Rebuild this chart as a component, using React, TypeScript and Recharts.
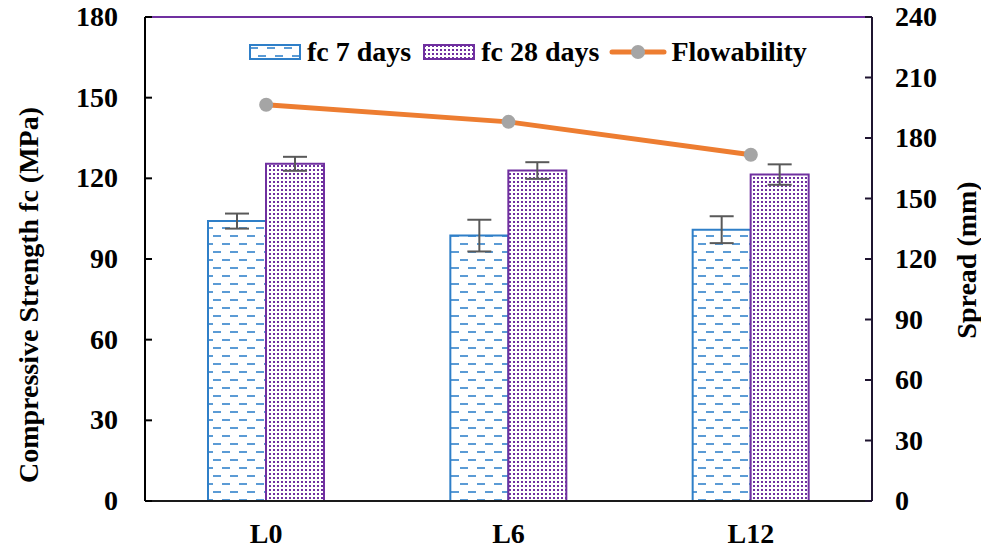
import React from 'react';
import { ComposedChart, Bar, Line, XAxis, YAxis, ErrorBar, Legend, ReferenceLine, Label } from 'recharts';

const categories = ['L0', 'L6', 'L12'];
const fc7 = [104.1, 98.7, 100.9];
const fc7Err = [2.8, 5.9, 5.0];
const fc28 = [125.4, 122.9, 121.4];
const fc28Err = [2.6, 3.1, 3.8];
const flowability = [196.5, 188.0, 171.7];
const leftTicks = [0, 30, 60, 90, 120, 150, 180];
const rightTicks = [0, 30, 60, 90, 120, 150, 180, 210, 240];

const data = categories.map((c, i) => ({
  name: c,
  fc7: fc7[i],
  fc7Err: fc7Err[i],
  fc28: fc28[i],
  fc28Err: fc28Err[i],
  flow: flowability[i],
}));

const FONT = 'Liberation Serif, DejaVu Serif';
const FS = 28;

const LeftTick = (props: any) => {
  const { x, y, payload } = props;
  return (
    <g>
      <line x1={x} x2={x + 7} y1={y} y2={y} stroke="#000" strokeWidth={2} />
      <text x={x - 27} y={y} dy={9} textAnchor="end" fontFamily={FONT} fontWeight="bold" fontSize={FS} fill="#000">
        {payload.value}
      </text>
    </g>
  );
};

const RightTick = (props: any) => {
  const { x, y, payload } = props;
  return (
    <g>
      <line x1={x - 7} x2={x} y1={y} y2={y} stroke="#1f1530" strokeWidth={2} />
      <text x={x + 23} y={y} dy={9} textAnchor="start" fontFamily={FONT} fontWeight="bold" fontSize={FS} fill="#000">
        {payload.value}
      </text>
    </g>
  );
};

const XTick = (props: any) => {
  const { x, y, payload } = props;
  return (
    <text x={x} y={y + 25} dy={9} textAnchor="middle" fontFamily={FONT} fontWeight="bold" fontSize={FS} fill="#000">
      {payload.value}
    </text>
  );
};

const LeftTitle = (props: any) => {
  const vb = props.viewBox || {};
  const cx = 29;
  const cy = vb.y + vb.height / 2 + 36;
  return (
    <text x={cx} y={cy} transform={`rotate(-90 ${cx} ${cy})`} textAnchor="middle" dy={9} fontFamily={FONT} fontWeight="bold" fontSize={FS} fill="#000">
      Compressive Strength fc (MPa)
    </text>
  );
};

const RightTitle = (props: any) => {
  const vb = props.viewBox || {};
  const cx = vb.x + vb.width - 14;
  const cy = vb.y + vb.height / 2 + 1;
  return (
    <text x={cx} y={cy} transform={`rotate(-90 ${cx} ${cy})`} textAnchor="middle" dy={9} fontFamily={FONT} fontWeight="bold" fontSize={FS} fill="#000">
      Spread (mm)
    </text>
  );
};

const legendText: React.CSSProperties = {
  fontFamily: FONT,
  fontWeight: 'bold',
  fontSize: FS,
  color: '#000',
  lineHeight: '30px',
  whiteSpace: 'nowrap',
};

const LegendContent = () => (
  <div style={{ display: 'flex', alignItems: 'center', width: 600 }}>
    <svg width={52} height={16} style={{ marginRight: 6 }}>
      <rect x={1} y={1} width={50} height={14} fill="url(#pat7)" stroke="#2F7FC8" strokeWidth={2} />
    </svg>
    <span style={{ ...legendText, marginRight: 12 }}>fc 7 days</span>
    <svg width={52} height={16} style={{ marginRight: 6 }}>
      <rect x={1} y={1} width={50} height={14} fill="url(#pat28)" stroke="#7030A0" strokeWidth={2} />
    </svg>
    <span style={{ ...legendText, marginRight: 10 }}>fc 28 days</span>
    <svg width={58} height={18} style={{ marginRight: 4 }}>
      <line x1={3} x2={55} y1={9} y2={9} stroke="#ED7D31" strokeWidth={5} strokeLinecap="round" />
      <circle cx={29} cy={9} r={7} fill="#A5A5A5" />
    </svg>
    <span style={legendText}>Flowability</span>
  </div>
);

export default function App() {
  return (
    <div style={{ position: 'absolute', left: 0, top: 0, width: 981, height: 548, background: '#fff' }}>
      <svg width={0} height={0} style={{ position: 'absolute' }}>
        <defs>
          <pattern id="pat7" patternUnits="userSpaceOnUse" width={17} height={16}>
            <rect width={17} height={16} fill="#fff" />
            <rect x={1} y={3} width={8} height={2} fill="#5B9BD5" />
            <rect x={9} y={11} width={8} height={2} fill="#5B9BD5" />
          </pattern>
          <pattern id="pat28" patternUnits="userSpaceOnUse" width={4} height={4}>
            <rect width={4} height={4} fill="#fff" />
            <rect x={1} y={1} width={2} height={2} fill="#7030A0" shapeRendering="crispEdges" />
          </pattern>
        </defs>
      </svg>
      <ComposedChart
        width={981}
        height={548}
        data={data}
        margin={{ top: 17, right: 0, bottom: 0, left: 0 }}
        barGap={0}
      >
        <XAxis
          dataKey="name"
          axisLine={{ stroke: '#1a1a1a', strokeWidth: 2 }}
          tickLine={false}
          tick={<XTick />}
          height={47}
        />
        <YAxis
          yAxisId="left"
          orientation="left"
          domain={[0, 180]}
          ticks={leftTicks}
          width={145}
          axisLine={{ stroke: '#000', strokeWidth: 2 }}
          tickLine={false}
          tickSize={0}
          tickMargin={0}
          tick={<LeftTick />}
          interval={0}
        >
          <Label content={<LeftTitle />} />
        </YAxis>
        <YAxis
          yAxisId="right"
          orientation="right"
          domain={[0, 240]}
          ticks={rightTicks}
          width={109}
          axisLine={{ stroke: '#1f1530', strokeWidth: 2 }}
          tickLine={false}
          tickSize={0}
          tickMargin={0}
          tick={<RightTick />}
          interval={0}
        >
          <Label content={<RightTitle />} />
        </YAxis>
        <ReferenceLine yAxisId="left" y={180} stroke="#7030A0" strokeWidth={2} />
        <Legend
          verticalAlign="middle"
          align="center"
          layout="horizontal"
          content={<LegendContent />}
          wrapperStyle={{ position: 'absolute', top: 37, left: 249, width: 600, height: 30 }}
        />
        <Bar yAxisId="left" dataKey="fc7" name="fc 7 days" barSize={58} fill="url(#pat7)" stroke="#2F7FC8" strokeWidth={2} isAnimationActive={false}>
          <ErrorBar dataKey="fc7Err" width={12} stroke="#595959" strokeWidth={2} />
        </Bar>
        <Bar yAxisId="left" dataKey="fc28" name="fc 28 days" barSize={58} fill="url(#pat28)" stroke="#7030A0" strokeWidth={2} isAnimationActive={false}>
          <ErrorBar dataKey="fc28Err" width={12} stroke="#595959" strokeWidth={2} />
        </Bar>
        <Line
          yAxisId="right"
          dataKey="flow"
          name="Flowability"
          stroke="#ED7D31"
          strokeWidth={5}
          dot={{ r: 7, fill: '#A5A5A5', stroke: 'none' }}
          isAnimationActive={false}
        />
      </ComposedChart>
    </div>
  );
}
